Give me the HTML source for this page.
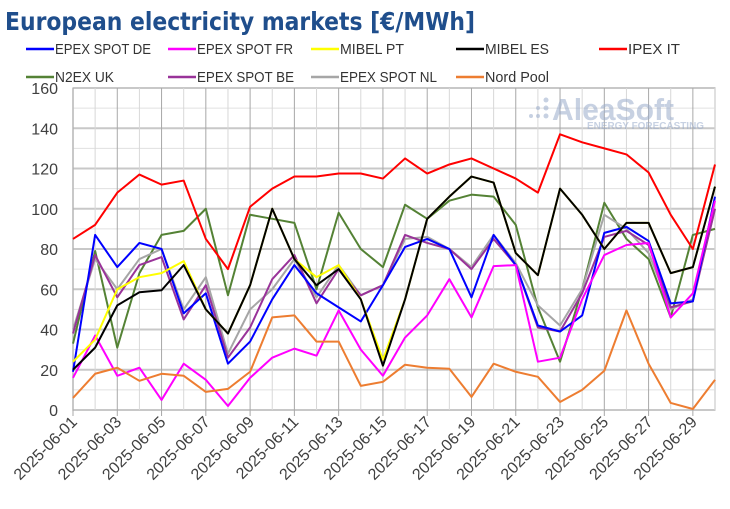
<!DOCTYPE html>
<html><head><meta charset="utf-8"><style>
body{margin:0;background:#fff;}
svg{display:block;font-family:"Liberation Sans",sans-serif;}
</style></head><body>
<svg id="s" width="730" height="509" viewBox="0 0 730 509" xmlns="http://www.w3.org/2000/svg">
<text x="5" y="30" font-size="25" font-weight="bold" fill="#1f4e8c" font-family="DejaVu Sans Condensed, DejaVu Sans, sans-serif" textLength="470" lengthAdjust="spacingAndGlyphs">European electricity markets [€/MWh]</text>
<g id="grid"></g>
<g opacity="0.55">
<text x="552" y="120" font-size="31" font-weight="bold" fill="#9aaccc" textLength="122" lengthAdjust="spacingAndGlyphs">AleaSoft</text>
<text x="587" y="129" font-size="10" font-weight="bold" fill="#9aaccc" textLength="117" lengthAdjust="spacingAndGlyphs">ENERGY FORECASTING</text>
<circle cx="546" cy="100" r="2.5" fill="#9aaccc"/><circle cx="546" cy="108" r="2.5" fill="#9aaccc"/><circle cx="546" cy="116" r="2.5" fill="#9aaccc"/><circle cx="538" cy="108" r="2" fill="#9aaccc"/><circle cx="538" cy="116" r="2" fill="#9aaccc"/><circle cx="531" cy="116" r="2" fill="#9aaccc"/>
</g>
<g id="series"></g>
<g id="legend" font-size="15" fill="#333"></g>
<g id="labels" font-size="16" fill="#404040"></g>
</svg>
<script>
const NS="http://www.w3.org/2000/svg";
function el(p,t,a,txt){const e=document.createElementNS(NS,t);for(const k in a)e.setAttribute(k,a[k]);if(txt!=null)e.textContent=txt;p.appendChild(e);return e;}
const L=73,R=715,T=88,B=410;
const X=i=>L+(R-L)*i/29, Y=v=>B-(B-T)*v/160;
const g=document.getElementById('grid'),lab=document.getElementById('labels');
el(g,'rect',{x:L,y:T,width:R-L,height:B-T,fill:'none',stroke:'#d0d0d0','stroke-width':1.5});
for(let v=0;v<=160;v+=10){el(g,'line',{x1:L,x2:R,y1:Y(v),y2:Y(v),stroke:v%20==0?'#c8c8c8':'#e0e0e0','stroke-width':v%20==0?2:1});
 if(v%20==0)el(lab,'text',{x:58,y:Y(v)+6,'text-anchor':'end'},v);}
for(let i=0;i<30;i++){el(g,'line',{x1:X(i),x2:X(i),y1:T,y2:B+(i%2==0?6:0),stroke:i%2==0?'#a8a8a8':'#d8d8d8','stroke-width':1});
 if(i%2==0){const d=String(i+1).padStart(2,'0');const x=X(i)+5,y=B+13;el(lab,'text',{x:x,y:y,'text-anchor':'end',transform:`rotate(-45 ${x} ${y})`},'2025-06-'+d);}}
const S=[
['N2EX UK','#548235',[33,79,31,68,87,89,100,57,97,95,93,60,98,80,71,102,95,104,107,106,92,51,24,60,103,85,75,46,87,90]],
['EPEX SPOT NL','#a6a6a6',[40,75,60,75,80,50,66,28,50,60,75,56,72,57,62,85,86,80,71,87,73,52,42,60,97,90,78,50,55,100]],
['EPEX SPOT BE','#993399',[38,77,56,72,76,45,62,26,41,65,77,53,70,57,62,87,83,80,70,85,72,41,39,58,86,89,82,51,54,100]],
['EPEX SPOT DE','#0000ff',[19,87,71,83,80,48,58,23,34,55,72,58,51,44,62,81,85,80,56,87,72,42,39,47,88,91,84,53,54,106]],
['EPEX SPOT FR','#ff00ff',[16,37,17,21,5,23,15,2,16,26,30.5,27,49.5,30,17,36,47,65,46,71.5,72,24,26,55,77,82,83,46,58,104]],
['Nord Pool','#ed7d31',[6,18,21,14.5,18,17,9,10.5,19,46,47,34,34,12,14,22.5,21,20.5,6.5,23,19,16.5,4,10,19.5,49.5,23,3.5,0.5,15]],
['MIBEL PT','#ffff00',[24,35,60,66,68,74,50,38,62,100,75,66,72,55,25,55,95,106,116,113,78,67,110,97,80,93,93,68,71,111]],
['MIBEL ES','#000000',[20,31,52,58.5,59.5,72,50,38,62,100,75,62,70,55,22,55,95,106,116,113,78,67,110,97,80,93,93,68,71,111]],
['IPEX IT','#ff0000',[85,92,108,117,112,114,85,70,101,110,116,116,117.5,117.5,115,125,117.5,122,125,120,115,108,137,133,130,127,118,97,80,122]]];
const sg=document.getElementById('series');
S.forEach(s=>el(sg,'polyline',{points:s[2].map((v,i)=>X(i)+','+Y(v)).join(' '),fill:'none',stroke:s[1],'stroke-width':2,'stroke-linejoin':'round'}));
const leg=[['EPEX SPOT DE','#0000ff',96],['EPEX SPOT FR','#ff00ff',96],['MIBEL PT','#ffff00',64],['MIBEL ES','#000000',64],['IPEX IT','#ff0000',52],
['N2EX UK','#548235',59],['EPEX SPOT BE','#993399',97],['EPEX SPOT NL','#a6a6a6',97],['Nord Pool','#ed7d31',64]];
const cols=[26,168,311,456,599],lg=document.getElementById('legend');
leg.forEach((l,k)=>{const x=cols[k%5],y=k<5?49:77;el(lg,'line',{x1:x,x2:x+28,y1:y,y2:y,stroke:l[1],'stroke-width':2.5});el(lg,'text',{x:x+29,y:y+5,textLength:l[2],lengthAdjust:'spacingAndGlyphs'},l[0]);});
</script>
</body></html>
